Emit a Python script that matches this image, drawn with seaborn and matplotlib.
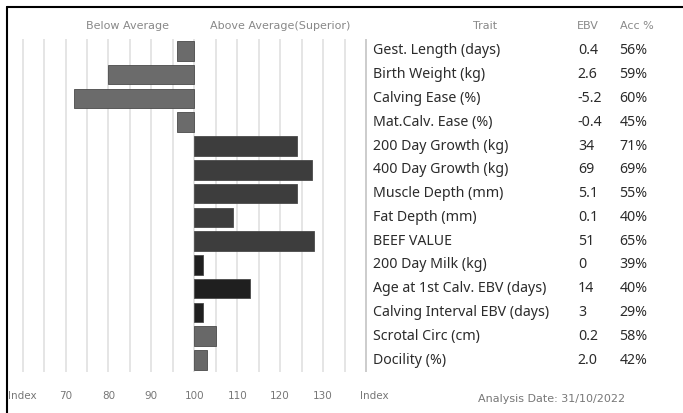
import matplotlib
matplotlib.use("Agg")
import matplotlib.pyplot as plt
import matplotlib.transforms as mtransforms
from matplotlib.lines import Line2D
import pandas as pd
import seaborn as sns

traits = [
    "Gest. Length (days)", "Birth Weight (kg)", "Calving Ease (%)", "Mat.Calv. Ease (%)",
    "200 Day Growth (kg)", "400 Day Growth (kg)", "Muscle Depth (mm)", "Fat Depth (mm)",
    "BEEF VALUE", "200 Day Milk (kg)", "Age at 1st Calv. EBV (days)",
    "Calving Interval EBV (days)", "Scrotal Circ (cm)", "Docility (%)",
]
ebv = ["0.4", "2.6", "-5.2", "-0.4", "34", "69", "5.1", "0.1", "51", "0", "14", "3", "0.2", "2.0"]
acc = ["56%", "59%", "60%", "45%", "71%", "69%", "55%", "40%", "65%", "39%", "40%", "29%", "58%", "42%"]
# breed index (100 = breed average)
index_vals = [96, 80, 72, 96, 124, 127.5, 124, 109, 128, 102, 113, 102, 105, 103]
bar_colors = ["#6b6b6b"] * 4 + ["#3d3d3d"] * 5 + ["#1f1f1f"] * 3 + ["#686868"] * 2
tick_pos = [60, 70, 80, 90, 100, 110, 120, 130, 140]
tick_lbl = ["Index", "70", "80", "90", "100", "110", "120", "130", "Index"]

df = pd.DataFrame({"trait": traits, "dev": [v - 100 for v in index_vals]})

sns.set_style("white")
fig = plt.figure(figsize=(6.83, 4.13), dpi=100)
ax = fig.add_axes([0.0206, 0.0995, 0.5278, 0.806])

# light vertical grid every 5 index points
for g in range(-40, 41, 5):
    ax.axvline(g, color="#c8c8c8" if g == 40 else "#e3e3e3", lw=1.3, zorder=0)

sns.barplot(data=df, y="trait", x="dev", hue="trait", palette=bar_colors,
            legend=False, width=0.82, edgecolor="#4a4a4a", linewidth=0.6,
            orient="h", ax=ax, zorder=2)

ax.set_xlim(-42, 42)
ax.set_ylim(len(traits) - 0.5, -0.5)
ax.set_xticks([p - 100 for p in tick_pos])
ax.set_xticklabels(tick_lbl, fontsize=7.5, color="#777777")
ax.tick_params(axis="x", length=0, pad=14)
# the right-hand "Index" sits a little past its gridline
last = ax.get_xticklabels()[-1]
last.set_transform(last.get_transform() + mtransforms.ScaledTranslation(0.08, 0, fig.dpi_scale_trans))
ax.set_yticks([])
ax.set_xlabel("")
ax.set_ylabel("")
for s in ax.spines.values():
    s.set_visible(False)

# trait table on the right
tr = mtransforms.blended_transform_factory(fig.transFigure, ax.transData)
cell = dict(transform=tr, fontsize=10.2, family="Noto Sans", color="#2b2b2b",
            va="center", ha="left", clip_on=False)
for i, (t, e, a) in enumerate(zip(traits, ebv, acc)):
    ax.text(0.546, i, t, **cell)
    ax.text(0.846, i, e, **cell)
    ax.text(0.907, i, a, **cell)

hdr = dict(fontsize=8, color="#888888", va="center", ha="center")
fig.text(0.187, 0.936, "Below Average", **hdr)
fig.text(0.41, 0.936, "Above Average(Superior)", **hdr)
fig.text(0.71, 0.936, "Trait", **hdr)
fig.text(0.861, 0.936, "EBV", **hdr)
fig.text(0.933, 0.936, "Acc %", **hdr)
fig.text(0.807, 0.034, "Analysis Date: 31/10/2022", fontsize=8,
         color="#777777", va="center", ha="center")

# frame edges (top and left only)
fig.add_artist(Line2D([0.0102, 0.0102], [0.0, 0.983], color="black", lw=1.5, transform=fig.transFigure))
fig.add_artist(Line2D([0.0102, 1.0], [0.983, 0.983], color="black", lw=1.5, transform=fig.transFigure))

fig.savefig("out.png", dpi=100)
